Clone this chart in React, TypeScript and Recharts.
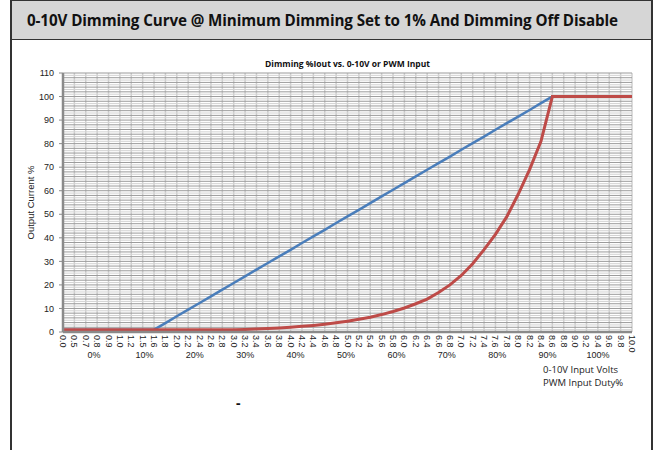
import React from "react";
import { LineChart, Line, XAxis, YAxis, CartesianGrid } from "recharts";

const volts = ["0.0","0.5","0.7","0.8","0.9","1.0","1.2","1.5","1.6","1.8","2.0","2.2","2.4","2.6","2.8","3.0","3.2","3.4","3.6","3.8","4.0","4.2","4.4","4.6","4.8","5.0","5.2","5.4","5.6","5.8","6.0","6.2","6.4","6.6","6.8","7.0","7.2","7.4","7.6","7.8","8.0","8.2","8.4","8.6","8.8","9.0","9.2","9.4","9.6","9.8","10.0"];

const linearCurve = [1,1,1,1,1,1,1,1,1,3.8,6.7,9.5,12.3,15.1,18.0,20.8,23.6,26.5,29.3,32.1,34.9,37.8,40.6,43.4,46.3,49.1,51.9,54.7,57.6,60.4,63.2,66.1,68.9,71.7,74.5,77.4,80.2,83.0,85.9,88.7,91.5,94.3,97.2,100,100,100,100,100,100,100,100];

const logCurve = [1,1,1,1,1,1,1,1,1,1,1,1,1,1,1,1,1.1,1.3,1.5,1.7,2.0,2.4,2.8,3.3,3.9,4.6,5.4,6.3,7.4,8.7,10.2,12,14,16.8,20,24,29,35,41.5,49,58.5,69,81,100,100,100,100,100,100,100,100];

const yTicks = [0,10,20,30,40,50,60,70,80,90,100,110];
const dutyTicks = [0,10,20,30,40,50,60,70,80,90,100];
const dutyLabels = ["0%","10%","20%","30%","40%","50%","60%","70%","80%","90%","100%"];
const evenGrid = Array.from({ length: 56 }, (_, i) => i * 2);
const oddGrid = Array.from({ length: 55 }, (_, i) => i * 2 + 1);

const data = volts.map((v, i) => ({ v, linear: linearCurve[i], log: logCurve[i] }));
const dutyData = dutyTicks.map((d) => ({ duty: d }));

const FONT = "Liberation Sans, Arial, sans-serif";
const MARGIN = { top: 73, right: 25, bottom: 78, left: 13 };

const VoltTick = (props: any) => {
  const { x, y, payload } = props;
  return (
    <text
      transform={`translate(${x - 3},${y}) rotate(90)`}
      textAnchor="start"
      fontSize={9}
      fontFamily={FONT}
      fill="#222"
    >
      {payload.value}
    </text>
  );
};

export default function App() {
  return (
    <div style={{ position: "absolute", left: 0, top: 0, width: 657, height: 450, background: "#fff", overflow: "hidden" }}>
      <div style={{ position: "absolute", left: 10, top: 0, width: 643, height: 450, borderLeft: "2px solid #333", borderRight: "2px solid #333", boxSizing: "border-box" }} />
      <div style={{ position: "absolute", left: 10, top: 0, width: 643, height: 40, background: "#d6d6d6", borderLeft: "2px solid #333", borderRight: "2px solid #333", borderTop: "1px solid #333", borderBottom: "1.5px solid #333", boxSizing: "border-box", fontFamily: "'Open Sans', sans-serif", fontWeight: 700, fontSize: 15.2, lineHeight: "38px", paddingLeft: 15, color: "#111", whiteSpace: "nowrap", letterSpacing: "-0.1px" }}>
        0-10V Dimming Curve @ Minimum Dimming Set to 1% And Dimming Off Disable
      </div>
      <div style={{ position: "absolute", left: 63, top: 58, width: 569, textAlign: "center", fontFamily: "'Open Sans', sans-serif", fontWeight: 700, fontSize: 8.5, color: "#111" }}>
        Dimming %Iout vs. 0-10V or PWM Input
      </div>
      <LineChart
        width={657}
        height={450}
        data={data}
        margin={MARGIN}
        style={{ position: "absolute", left: 0, top: 0 }}
      >
        <CartesianGrid horizontal={false} vertical stroke="#cfcfcf" strokeWidth={1.5} />
        <CartesianGrid vertical={false} horizontal horizontalValues={oddGrid} stroke="#d2d2d2" />
        <CartesianGrid vertical={false} horizontal horizontalValues={evenGrid} stroke="#9a9a9a" />
        <XAxis
          dataKey="v"
          type="category"
          interval={0}
          height={40}
          tick={<VoltTick />}
          tickLine={false}
          tickSize={0}
          tickMargin={3}
          axisLine={{ stroke: "#8a8a8a", strokeWidth: 2.5 }}
        />
        <YAxis
          type="number"
          domain={[0, 110]}
          ticks={yTicks}
          interval={0}
          width={50}
          tickSize={4}
          tickMargin={5}
          tickLine={{ stroke: "#8a8a8a" }}
          axisLine={{ stroke: "#8a8a8a", strokeWidth: 2.5 }}
          tick={{ fontSize: 9, fill: "#222", fontFamily: FONT }}
          label={{ value: "Output Current %", angle: -90, position: "insideLeft", offset: 18, style: { textAnchor: "middle", fontSize: 9.5, fill: "#222", fontFamily: FONT } }}
        />
        <Line type="linear" dataKey="linear" stroke="#4a7ebb" strokeWidth={2.5} dot={false} isAnimationActive={false} />
        <Line type="linear" dataKey="log" stroke="#be4b48" strokeWidth={3} dot={false} isAnimationActive={false} />
      </LineChart>
      <LineChart
        width={657}
        height={450}
        data={dutyData}
        margin={{ top: 73, right: 25, bottom: 78, left: 63 }}
        style={{ position: "absolute", left: 0, top: 0, pointerEvents: "none" }}
      >
        <XAxis
          dataKey="duty"
          type="number"
          scale="linear"
          domain={[-6.15, 106.75]}
          allowDataOverflow
          ticks={dutyTicks}
          tickFormatter={(v: number) => dutyLabels[dutyTicks.indexOf(v)]}
          height={20}
          axisLine={false}
          tickLine={false}
          tickSize={0}
          tickMargin={0}
          interval={0}
          tick={{ fontSize: 9, fill: "#222", fontFamily: FONT }}
        />
        <YAxis hide domain={[0, 110]} width={0} />
      </LineChart>
      <div style={{ position: "absolute", left: 543, top: 363, fontFamily: "'Open Sans', sans-serif", fontSize: 9.5, lineHeight: "13px", color: "#222", whiteSpace: "nowrap" }}>
        0-10V Input Volts<br />PWM Input Duty%
      </div>
      <div style={{ position: "absolute", left: 236, top: 393, fontFamily: "'Open Sans', sans-serif", fontWeight: 700, fontSize: 14, color: "#111" }}>
        -
      </div>
    </div>
  );
}
